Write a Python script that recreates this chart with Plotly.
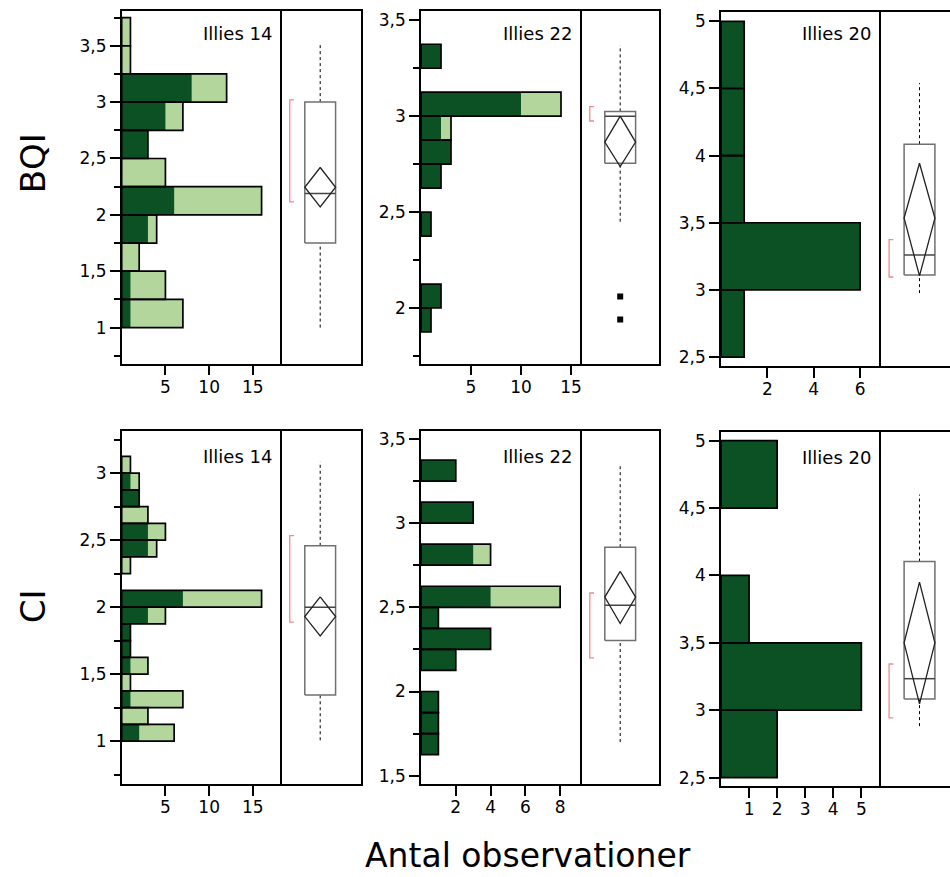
import plotly.graph_objects as go

W, H = 950, 877
DARK = "#0b5123"
LIGHT = "#b3d69d"
RED = "#f08a8a"
BOXGRAY = "#707070"
FONT = "DejaVu Sans"

# ---------------- data ----------------
row_labels = ["BQI", "CI"]
panel_titles = ["Illies 14", "Illies 22", "Illies 20", "Illies 14", "Illies 22", "Illies 20"]
x_title = "Antal observationer"

# BQI, Illies 14 (bin width 0.25)
bqi14_bin_lo = [3.5, 3.25, 3.0, 2.75, 2.5, 2.25, 2.0, 1.75, 1.5, 1.25, 1.0]
bqi14_dark   = [0, 0, 8, 5, 3, 0, 6, 3, 0, 1, 1]
bqi14_total  = [1, 1, 12, 7, 3, 5, 16, 4, 2, 5, 7]
bqi14_bin_w = 0.25

# BQI, Illies 22 (bin width 0.125)
bqi22_bin_lo = [3.25, 3.0, 2.875, 2.75, 2.625, 2.375, 2.0, 1.875]
bqi22_dark   = [2, 10, 2, 3, 2, 1, 2, 1]
bqi22_total  = [2, 14, 3, 3, 2, 1, 2, 1]
bqi22_bin_w = 0.125

# BQI, Illies 20 (bin width 0.5)
bqi20_bin_lo = [4.5, 4.0, 3.5, 3.0, 2.5]
bqi20_dark   = [1, 1, 1, 6, 1]
bqi20_total  = [1, 1, 1, 6, 1]
bqi20_bin_w = 0.5

# CI, Illies 14 (bin width 0.125)
ci14_bin_lo = [3.0, 2.875, 2.75, 2.625, 2.5, 2.375, 2.25, 2.0, 1.875, 1.75, 1.625, 1.5, 1.375, 1.25, 1.125, 1.0]
ci14_dark   = [0, 1, 2, 0, 3, 3, 0, 7, 3, 1, 1, 1, 0, 1, 0, 2]
ci14_total  = [1, 2, 2, 3, 5, 4, 1, 16, 5, 1, 1, 3, 1, 7, 3, 6]
ci14_bin_w = 0.125

# CI, Illies 22 (bin width 0.125)
ci22_bin_lo = [3.25, 3.0, 2.75, 2.5, 2.375, 2.25, 2.125, 1.875, 1.75, 1.625]
ci22_dark   = [2, 3, 3, 4, 1, 4, 2, 1, 1, 1]
ci22_total  = [2, 3, 4, 8, 1, 4, 2, 1, 1, 1]
ci22_bin_w = 0.125

# CI, Illies 20 (bin width 0.5)
ci20_bin_lo = [4.5, 3.5, 3.0, 2.5]
ci20_dark   = [2, 1, 5, 2]
ci20_total  = [2, 1, 5, 2]
ci20_bin_w = 0.5

# box-plot summaries, one entry per panel (BQI 14, 22, 20, CI 14, 22, 20)
box_q1      = [1.75, 2.755, 3.11, 1.345, 2.303, 3.084]
box_median  = [2.19, 3.0, 3.26, 2.0, 2.512, 3.234]
box_q3      = [3.0, 3.025, 4.085, 2.458, 2.857, 4.103]
whisker_lo  = [1.0, 2.45, 2.976, 1.007, 1.70, 2.882]
whisker_hi  = [3.51, 3.37, 4.54, 3.086, 3.356, 4.6]
mean_val    = [2.245, 2.865, 3.535, 1.93, 2.561, 3.5]
mean_ci_lo  = [2.07, 2.737, 3.104, 1.785, 2.404, 3.047]
mean_ci_hi  = [2.42, 3.0, 3.943, 2.077, 2.713, 3.951]
shorth_lo   = [2.115, 2.975, 3.096, 1.889, 2.2, 2.944]
shorth_hi   = [3.02, 3.05, 3.375, 2.534, 2.585, 3.343]
outliers    = [[], [2.06, 1.94], [], [], [], []]

# axis ticks
ytick_vals = [
    [1, 1.5, 2, 2.5, 3, 3.5],
    [2, 2.5, 3, 3.5],
    [2.5, 3, 3.5, 4, 4.5, 5],
    [1, 1.5, 2, 2.5, 3],
    [1.5, 2, 2.5, 3, 3.5],
    [2.5, 3, 3.5, 4, 4.5, 5],
]
ytick_text = [
    ["1", "1,5", "2", "2,5", "3", "3,5"],
    ["2", "2,5", "3", "3,5"],
    ["2,5", "3", "3,5", "4", "4,5", "5"],
    ["1", "1,5", "2", "2,5", "3"],
    ["1,5", "2", "2,5", "3", "3,5"],
    ["2,5", "3", "3,5", "4", "4,5", "5"],
]
yminor_vals = [
    [0.75, 1.25, 1.75, 2.25, 2.75, 3.25, 3.75],
    [1.75, 2.25, 2.75, 3.25],
    [],
    [0.75, 1.25, 1.75, 2.25, 2.75, 3.25],
    [1.75, 2.25, 2.75, 3.25],
    [],
]
xtick_vals = [[5, 10, 15], [5, 10, 15], [2, 4, 6], [5, 10, 15], [2, 4, 6, 8], [1, 2, 3, 4, 5]]

y_ranges = [[0.68, 3.806], [1.71, 3.547], [2.433, 5.07], [0.68, 3.314], [1.45, 3.547], [2.44, 5.062]]
x_ranges = [[0, 18.3], [0, 16.07], [0, 6.9], [0, 18.3], [0, 9.24], [0, 5.7]]

hist_data = [
    (bqi14_bin_lo, bqi14_dark, bqi14_total, bqi14_bin_w),
    (bqi22_bin_lo, bqi22_dark, bqi22_total, bqi22_bin_w),
    (bqi20_bin_lo, bqi20_dark, bqi20_total, bqi20_bin_w),
    (ci14_bin_lo, ci14_dark, ci14_total, ci14_bin_w),
    (ci22_bin_lo, ci22_dark, ci22_total, ci22_bin_w),
    (ci20_bin_lo, ci20_dark, ci20_total, ci20_bin_w),
]

# ---------------- layout geometry (pixels) ----------------
col_hist_px = [(121.7, 281.7), (421, 581.7), (721, 881)]
col_box_px = [(281.7, 361), (581.7, 658.7), (881, 950)]
box_x_ranges = [[0, 1.03], [0, 1.0], [0, 0.896]]
row_px = [
    [(9.3, 363.3), (9.3, 363.3), (10, 365.7)],
    [(431, 785.7), (431, 785.7), (432.3, 787.3)],
]

def xd(a, b):
    return [a / W, min(b / W, 1.0)]

def yd(top, bot):
    return [1 - bot / H, 1 - top / H]

def ax_id(n):
    return "" if n == 1 else str(n)

fig = go.Figure()
layout = dict(
    width=W, height=H,
    margin=dict(l=0, r=0, t=0, b=0),
    paper_bgcolor="white", plot_bgcolor="white",
    showlegend=False, barmode="overlay",
    font=dict(family=FONT, size=16, color="black"),
)
annotations = []

BC = 0.5   # box centre in box-panel units
BH = 0.2   # box half width
BX = 0.105 # bracket position
BT = 0.055 # bracket tick length

for k in range(6):
    r, c = divmod(k, 3)
    hi = ax_id(k + 1)
    bi = ax_id(k + 7)
    hx, hy = f"x{hi}", f"y{hi}"
    bx, by = f"x{bi}", f"y{bi}"
    lo, dark, total, bw = hist_data[k]
    centers = [v + bw / 2 for v in lo]

    fig.add_trace(go.Bar(x=total, y=centers, width=bw, orientation="h",
                         marker=dict(color=LIGHT, line=dict(width=0)),
                         xaxis=hx, yaxis=hy, hoverinfo="skip"))
    fig.add_trace(go.Bar(x=dark, y=centers, width=bw, orientation="h",
                         marker=dict(color=DARK, line=dict(width=0)),
                         xaxis=hx, yaxis=hy, hoverinfo="skip"))
    fig.add_trace(go.Bar(x=total, y=centers, width=bw, orientation="h",
                         marker=dict(color="rgba(0,0,0,0)", line=dict(width=1.7, color="black")),
                         xaxis=hx, yaxis=hy, hoverinfo="skip"))

    q1, md, q3 = box_q1[k], box_median[k], box_q3[k]
    fig.add_trace(go.Scatter(x=[BC, BC], y=[q3, whisker_hi[k]], mode="lines",
                             line=dict(color="black", width=1, dash="dot"),
                             xaxis=bx, yaxis=by, hoverinfo="skip"))
    fig.add_trace(go.Scatter(x=[BC, BC], y=[whisker_lo[k], q1], mode="lines",
                             line=dict(color="black", width=1, dash="dot"),
                             xaxis=bx, yaxis=by, hoverinfo="skip"))
    fig.add_trace(go.Scatter(x=[BC - BH, BC + BH, BC + BH, BC - BH, BC - BH],
                             y=[q1, q1, q3, q3, q1], mode="lines",
                             line=dict(color=BOXGRAY, width=1.5),
                             xaxis=bx, yaxis=by, hoverinfo="skip"))
    fig.add_trace(go.Scatter(x=[BC - BH, BC + BH], y=[md, md], mode="lines",
                             line=dict(color="#444444", width=1.5),
                             xaxis=bx, yaxis=by, hoverinfo="skip"))
    fig.add_trace(go.Scatter(x=[BC, BC + BH, BC, BC - BH, BC],
                             y=[mean_ci_hi[k], mean_val[k], mean_ci_lo[k], mean_val[k], mean_ci_hi[k]],
                             mode="lines", line=dict(color="#222222", width=1.3),
                             xaxis=bx, yaxis=by, hoverinfo="skip"))
    fig.add_trace(go.Scatter(x=[BX + BT, BX, BX, BX + BT],
                             y=[shorth_hi[k], shorth_hi[k], shorth_lo[k], shorth_lo[k]],
                             mode="lines", line=dict(color=RED, width=1.3),
                             xaxis=bx, yaxis=by, hoverinfo="skip"))
    if outliers[k]:
        fig.add_trace(go.Scatter(x=[BC] * len(outliers[k]), y=outliers[k], mode="markers",
                                 marker=dict(symbol="square", size=6, color="black"),
                                 xaxis=bx, yaxis=by, hoverinfo="skip"))

    top, bot = row_px[r][c]
    ydom = yd(top, bot)
    hx0, hx1 = col_hist_px[c]
    bx0, bx1 = col_box_px[c]

    axline = dict(showline=True, linecolor="black", linewidth=1.6, showgrid=False, zeroline=False)
    layout[f"xaxis{hi}"] = dict(domain=xd(hx0, hx1), anchor=hy, range=x_ranges[k],
                                tickmode="array", tickvals=xtick_vals[k],
                                ticks="outside", ticklen=10, tickwidth=1.6, tickcolor="black",
                                ticklabelstandoff=-3,
                                mirror=True, tickfont=dict(size=17, family=FONT), **axline)
    ydict = dict(domain=ydom, anchor=hx, range=y_ranges[k],
                 tickmode="array", tickvals=ytick_vals[k], ticktext=ytick_text[k],
                 ticks="outside", ticklen=10, tickwidth=1.6, tickcolor="black",
                 mirror=False, tickfont=dict(size=17, family=FONT), **axline)
    if yminor_vals[k]:
        ydict["minor"] = dict(tickmode="array", tickvals=yminor_vals[k], ticks="outside",
                              ticklen=6, tickwidth=1.6, tickcolor="black")
    layout[f"yaxis{hi}"] = ydict

    layout[f"xaxis{bi}"] = dict(domain=xd(bx0, bx1), anchor=by, range=box_x_ranges[c],
                                showticklabels=False, ticks="", mirror=True, **axline)
    layout[f"yaxis{bi}"] = dict(domain=ydom, anchor=bx, range=y_ranges[k],
                                showticklabels=False, ticks="", showline=True,
                                mirror=(c != 2), linecolor="black", linewidth=1.6,
                                showgrid=False, zeroline=False)

    annotations.append(dict(text=panel_titles[k], xref=f"{hx} domain", yref=f"{hy} domain",
                            x=1, y=1, xanchor="right", yanchor="middle",
                            xshift=-8, yshift=(-22 if r == 0 else -25),
                            showarrow=False, font=dict(size=18, family=FONT)))

annotations.append(dict(text=row_labels[0], xref="paper", yref="paper", x=33 / W, y=1 - 162 / H,
                        textangle=-90, showarrow=False, font=dict(size=34, family=FONT),
                        xanchor="center", yanchor="middle"))
annotations.append(dict(text=row_labels[1], xref="paper", yref="paper", x=33 / W, y=1 - 607 / H,
                        textangle=-90, showarrow=False, font=dict(size=34, family=FONT),
                        xanchor="center", yanchor="middle"))
annotations.append(dict(text=x_title, xref="paper", yref="paper", x=528 / W, y=1 - 857 / H,
                        showarrow=False, font=dict(size=33, family=FONT),
                        xanchor="center", yanchor="middle"))
layout["annotations"] = annotations

fig.update_layout(**layout)
fig.write_html("out.html")
